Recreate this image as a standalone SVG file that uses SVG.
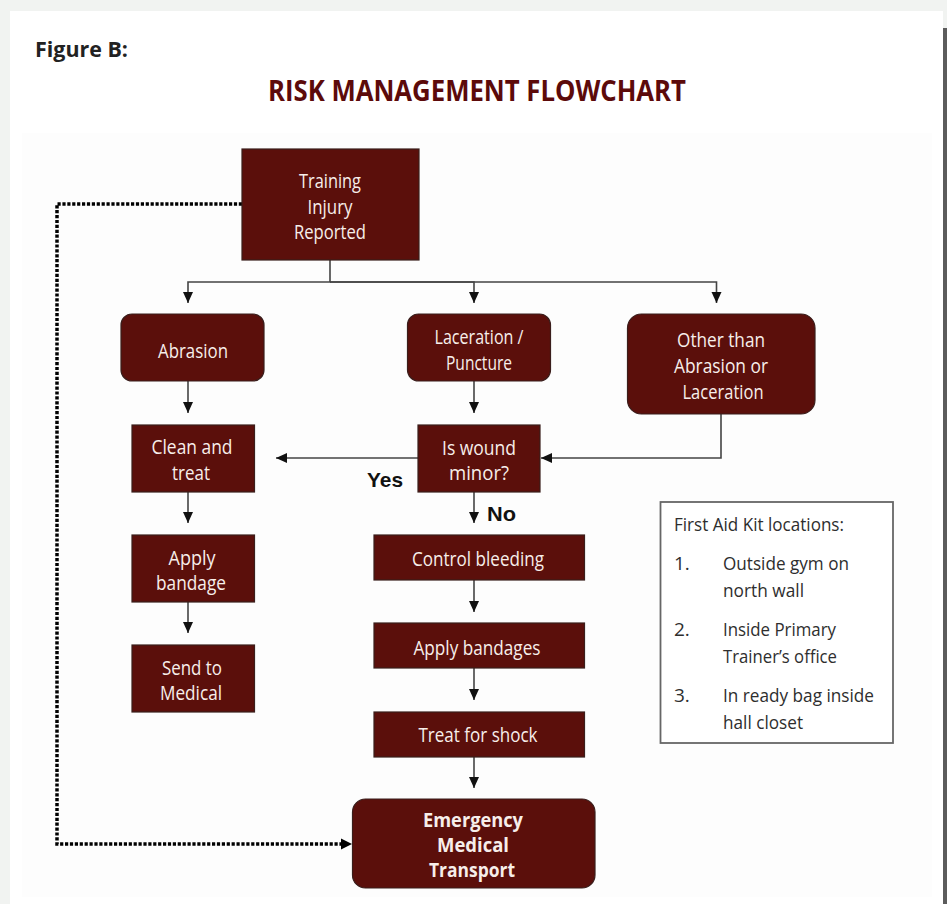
<svg xmlns="http://www.w3.org/2000/svg" width="947" height="904" viewBox="0 0 947 904">
<defs>
<style>
.box{fill:#5b0f0b;stroke:#3a1e1c;stroke-width:1.2}
.t{font-family:"Open Sans","Liberation Sans",sans-serif;font-size:20px;fill:#f7eeea;text-anchor:middle}
.tb{font-family:"Open Sans","Liberation Sans",sans-serif;font-size:20px;font-weight:bold;fill:#f7eeea;text-anchor:middle}
.k{font-family:"Open Sans","Liberation Sans",sans-serif;font-size:19px;fill:#2e2e2e}
.lbl{font-family:"Liberation Sans",Arial,sans-serif;font-size:21px;font-weight:bold;fill:#111}
.c{fill:none;stroke:#444;stroke-width:1.6}
.d{fill:none;stroke:#000;stroke-width:3.5;stroke-dasharray:3.2 1.7}
</style>
<marker id="ah" markerUnits="userSpaceOnUse" markerWidth="12" markerHeight="11" refX="11" refY="5" orient="auto">
<path d="M0,0 L11,5 L0,10 z" fill="#111"/>
</marker>
</defs>
<rect width="947" height="904" fill="#f1f3f1"/>
<rect x="10" y="11" width="933" height="893" fill="#ffffff"/>
<rect x="943" y="28" width="4" height="876" fill="#5c5c5c"/>
<rect x="22" y="133" width="910" height="764" fill="#fdfdfd"/>
<text x="35" y="57" font-family="'Open Sans','Liberation Sans',sans-serif" font-size="21" font-weight="bold" fill="#222" textLength="93" lengthAdjust="spacingAndGlyphs">Figure B:</text>
<text x="477" y="101" font-family="'Open Sans','Liberation Sans',sans-serif" font-size="28" font-weight="bold" fill="#5c0a0a" text-anchor="middle" textLength="418" lengthAdjust="spacingAndGlyphs">RISK MANAGEMENT FLOWCHART</text>

<g id="connectors">
<path class="c" d="M330,260 V282 H188 V303" marker-end="url(#ah)"/>
<path class="c" d="M330,282 H474 V303" marker-end="url(#ah)"/>
<path class="c" d="M330,282 H716.5 V303" marker-end="url(#ah)"/>
<path class="c" d="M188,381 V413" marker-end="url(#ah)"/>
<path class="c" d="M474,381 V413" marker-end="url(#ah)"/>
<path class="c" d="M721,414 V458 H541" marker-end="url(#ah)"/>
<path class="c" d="M418,458 H276" marker-end="url(#ah)"/>
<path class="c" d="M188,492 V523" marker-end="url(#ah)"/>
<path class="c" d="M188,602 V633" marker-end="url(#ah)"/>
<path class="c" d="M474,492 V523" marker-end="url(#ah)"/>
<path class="c" d="M474,580 V612" marker-end="url(#ah)"/>
<path class="c" d="M474,668 V700" marker-end="url(#ah)"/>
<path class="c" d="M474,757 V788" marker-end="url(#ah)"/>
<path class="d" d="M242,204 H57 V844 H345"/>
<path d="M341,838.5 L352,844 L341,849.5 z" fill="#000"/>
<text class="lbl" x="367" y="487" textLength="36" lengthAdjust="spacingAndGlyphs">Yes</text>
<text class="lbl" x="487" y="521" textLength="29" lengthAdjust="spacingAndGlyphs">No</text>
</g>

<g id="training">
<rect class="box" x="242" y="149" width="177" height="111"/>
<text class="t" x="330" y="188" textLength="62" lengthAdjust="spacingAndGlyphs">Training</text>
<text class="t" x="330" y="214" textLength="45" lengthAdjust="spacingAndGlyphs">Injury</text>
<text class="t" x="330" y="239" textLength="72" lengthAdjust="spacingAndGlyphs">Reported</text>
</g>
<g id="abrasion">
<rect class="box" x="121" y="314" width="143" height="67" rx="11"/>
<text class="t" x="193" y="358" textLength="70" lengthAdjust="spacingAndGlyphs">Abrasion</text>
</g>
<g id="laceration">
<rect class="box" x="407.5" y="314" width="143" height="67" rx="11"/>
<text class="t" x="479" y="344" textLength="89" lengthAdjust="spacingAndGlyphs">Laceration /</text>
<text class="t" x="479" y="370" textLength="66" lengthAdjust="spacingAndGlyphs">Puncture</text>
</g>
<g id="other">
<rect class="box" x="627.5" y="314" width="187.5" height="100" rx="14"/>
<text class="t" x="721" y="347" textLength="88" lengthAdjust="spacingAndGlyphs">Other than</text>
<text class="t" x="721" y="373" textLength="94" lengthAdjust="spacingAndGlyphs">Abrasion or</text>
<text class="t" x="723" y="399" textLength="81" lengthAdjust="spacingAndGlyphs">Laceration</text>
</g>
<g id="clean">
<rect class="box" x="132" y="425" width="122.5" height="67"/>
<text class="t" x="192" y="454" textLength="81" lengthAdjust="spacingAndGlyphs">Clean and</text>
<text class="t" x="191" y="480" textLength="38" lengthAdjust="spacingAndGlyphs">treat</text>
</g>
<g id="minor">
<rect class="box" x="418" y="425" width="122" height="67"/>
<text class="t" x="479" y="455" textLength="74" lengthAdjust="spacingAndGlyphs">Is wound</text>
<text class="t" x="479" y="480" textLength="60" lengthAdjust="spacingAndGlyphs">minor?</text>
</g>
<g id="apply-bandage">
<rect class="box" x="132" y="535" width="122.5" height="67"/>
<text class="t" x="192" y="565" textLength="47" lengthAdjust="spacingAndGlyphs">Apply</text>
<text class="t" x="191" y="590" textLength="70" lengthAdjust="spacingAndGlyphs">bandage</text>
</g>
<g id="send-medical">
<rect class="box" x="132" y="645" width="122.5" height="67"/>
<text class="t" x="192" y="675" textLength="60" lengthAdjust="spacingAndGlyphs">Send to</text>
<text class="t" x="191" y="700" textLength="62" lengthAdjust="spacingAndGlyphs">Medical</text>
</g>
<g id="control">
<rect class="box" x="374" y="535" width="210.5" height="45"/>
<text class="t" x="478" y="566" textLength="132" lengthAdjust="spacingAndGlyphs">Control bleeding</text>
</g>
<g id="apply-bandages">
<rect class="box" x="374" y="623" width="210.5" height="45"/>
<text class="t" x="477" y="655" textLength="127" lengthAdjust="spacingAndGlyphs">Apply bandages</text>
</g>
<g id="shock">
<rect class="box" x="374" y="712" width="210.5" height="45"/>
<text class="t" x="478" y="742" textLength="119" lengthAdjust="spacingAndGlyphs">Treat for shock</text>
</g>
<g id="emergency">
<rect class="box" x="352.5" y="799" width="242.5" height="89" rx="13"/>
<text class="tb" x="473" y="827" textLength="100" lengthAdjust="spacingAndGlyphs">Emergency</text>
<text class="tb" x="473" y="852" textLength="72" lengthAdjust="spacingAndGlyphs">Medical</text>
<text class="tb" x="472" y="877" textLength="86" lengthAdjust="spacingAndGlyphs">Transport</text>
</g>
<g id="first-aid">
<rect x="660.5" y="502" width="232.5" height="241" fill="#ffffff" stroke="#666" stroke-width="1.8"/>
<text class="k" x="674" y="531" textLength="170" lengthAdjust="spacingAndGlyphs">First Aid Kit locations:</text>
<text class="k" x="674" y="570">1.</text>
<text class="k" x="723" y="570" textLength="126" lengthAdjust="spacingAndGlyphs">Outside gym on</text>
<text class="k" x="723" y="597" textLength="81" lengthAdjust="spacingAndGlyphs">north wall</text>
<text class="k" x="674" y="636">2.</text>
<text class="k" x="723" y="636" textLength="113" lengthAdjust="spacingAndGlyphs">Inside Primary</text>
<text class="k" x="723" y="663" textLength="114" lengthAdjust="spacingAndGlyphs">Trainer’s office</text>
<text class="k" x="674" y="702">3.</text>
<text class="k" x="723" y="702" textLength="151" lengthAdjust="spacingAndGlyphs">In ready bag inside</text>
<text class="k" x="723" y="729" textLength="80" lengthAdjust="spacingAndGlyphs">hall closet</text>
</g>
</svg>
